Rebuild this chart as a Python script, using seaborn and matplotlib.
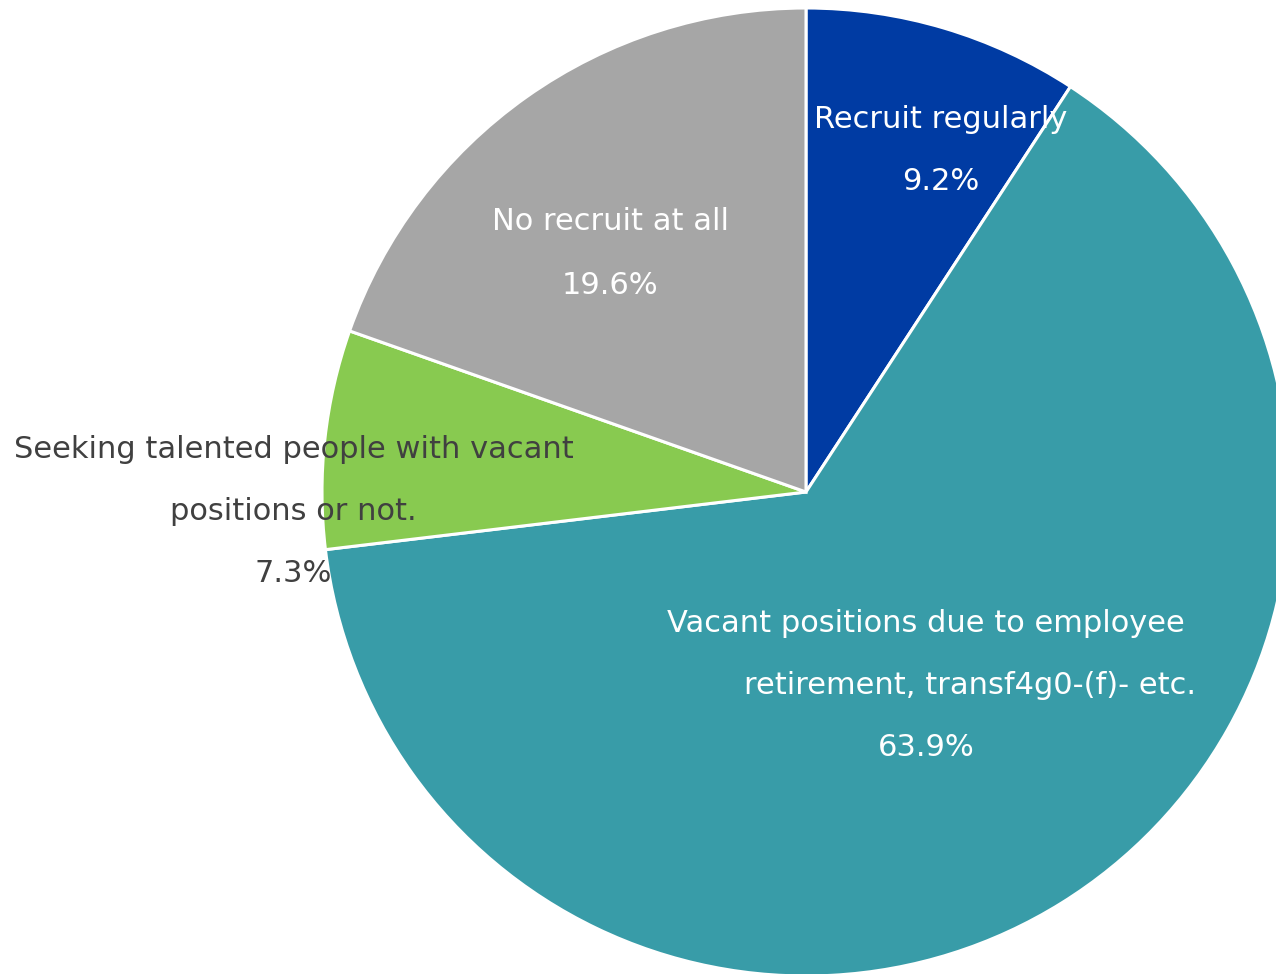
import matplotlib
matplotlib.use("Agg")
import matplotlib.pyplot as plt
import seaborn as sns

# Datos del grafico
categorias = [
    "Recruit regularly",
    "Vacant positions due to employee retirement, transf4g0-(f)- etc.",
    "Seeking talented people with vacant positions or not.",
    "No recruit at all",
]
porcentajes = [9.2, 63.9, 7.3, 19.6]
colores = ["#003BA3", "#389CA8", "#88CA50", "#A6A6A6"]

# Lineas de cada etiqueta (texto tal como aparece)
lineas_etiquetas = [
    ["Recruit regularly", "9.2%"],
    ["Vacant positions due to employee", "retirement, transf4g0-(f)- etc.", "63.9%"],
    ["Seeking talented people with vacant", "positions or not.", "7.3%"],
    ["No recruit at all", "19.6%"],
]
# posicion (px) del centro de cada linea, relativa al centro del pastel
pos_etiquetas = [
    [(135, 373), (135, 310)],
    [(120, -131), (164, -193), (120, -255)],
    [(-512, 42), (-513, -20), (-513, -82)],
    [(-196, 270), (-196, 207)],
]
color_texto = ["white", "white", "#404040", "white"]

sns.set_style("white")
plt.rcParams["font.family"] = ["DejaVu Sans"]

W, H = 1276, 974
cx, cy, radio = 806, 492, 484

fig = plt.figure(figsize=(W / 100, H / 100), dpi=100)
ax = fig.add_axes([0, 0, 1, 1])

ax.pie(
    porcentajes,
    colors=colores,
    startangle=90,
    counterclock=False,
    radius=radio,
    wedgeprops={"edgecolor": "white", "linewidth": 2.2},
)

for lineas, posiciones, col in zip(lineas_etiquetas, pos_etiquetas, color_texto):
    for texto, (dx, dy) in zip(lineas, posiciones):
        ax.text(dx, dy, texto, ha="center", va="center", fontsize=22, color=col)

ax.set_xlim(-cx, W - cx)
ax.set_ylim(-(H - cy), cy)
ax.set_aspect("equal")
ax.axis("off")

fig.savefig("out.png", dpi=100)
